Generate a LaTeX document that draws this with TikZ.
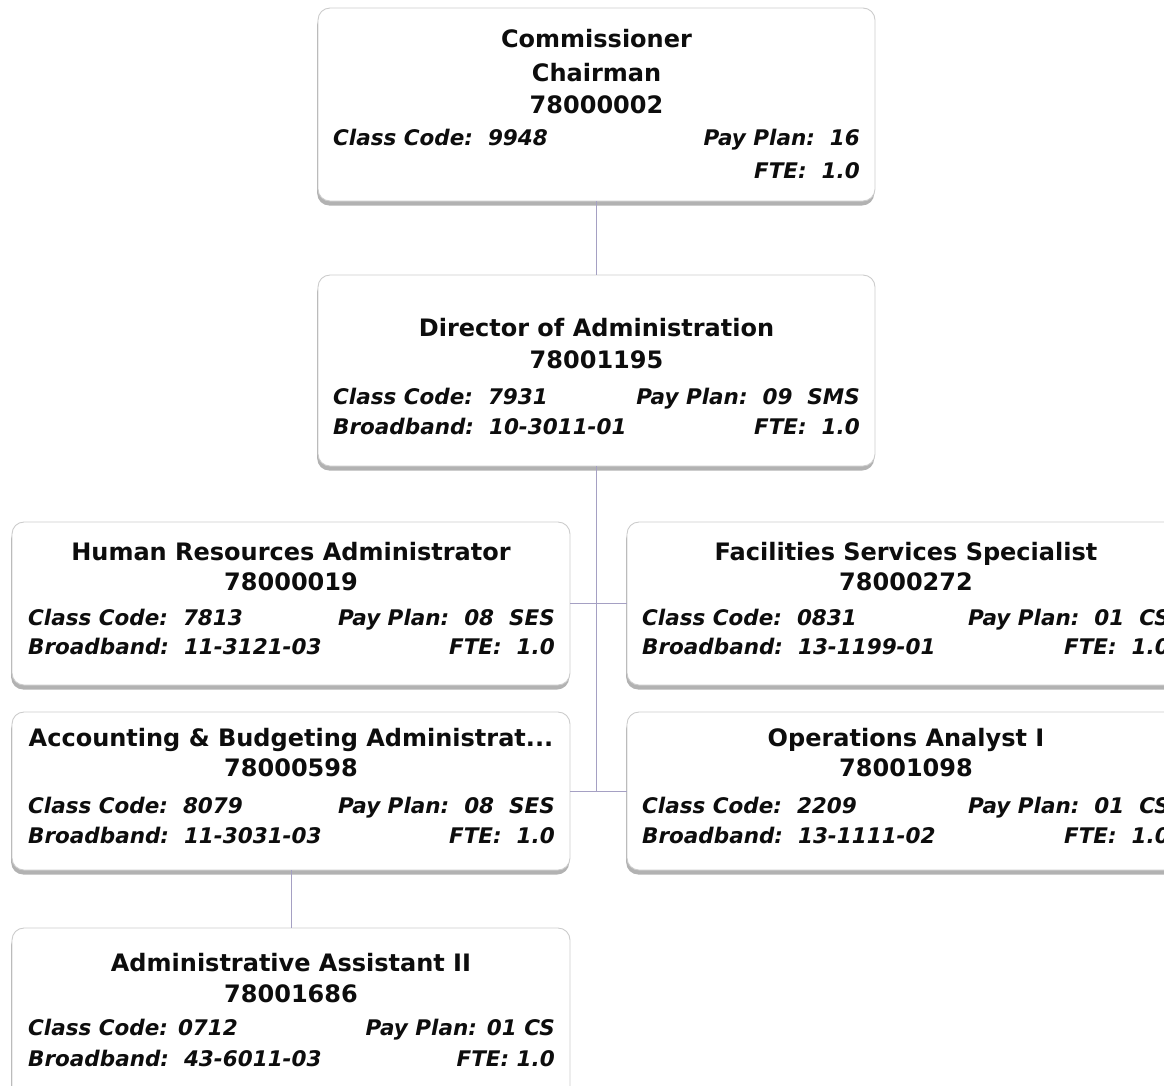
\documentclass[tikz,border=0pt]{standalone}
\usepackage{fontspec}
\setmainfont{DejaVu Sans}
\usetikzlibrary{shadows}
\begin{document}
\begin{tikzpicture}[x=1pt,y=-1pt,
  orgbox/.style={draw=gray!40, line width=0.9pt, fill=white, rounded corners=12pt,
    inner sep=0pt,
    general shadow={shadow xshift=-0.8pt, shadow yshift=-4.5pt, fill=gray!60}},
  link/.style={draw={rgb,255:red,165;green,160;blue,195}, line width=0.8pt},
  ttl/.style={inner sep=0pt, anchor=base, font=\fontsize{24}{24}\selectfont\bfseries, text=black!95},
  infoL/.style={inner sep=0pt, anchor=base west, font=\fontsize{21.5}{21.5}\selectfont\bfseries\itshape, text=black!95},
  infoR/.style={inner sep=0pt, anchor=base east, font=\fontsize{21.5}{21.5}\selectfont\bfseries\itshape, text=black!95}]
\useasboundingbox (0,0) rectangle (1164,1085);
\clip (0,0) rectangle (1164,1085);

% boxes
\node[orgbox, minimum width=557pt, minimum height=193pt] (top)   at (596.5,104.5) {};
\node[orgbox, minimum width=557pt, minimum height=191pt] (dir)   at (596.5,370.5) {};
\node[orgbox, minimum width=558pt, minimum height=163pt] (hr)    at (291,603.5) {};
\node[orgbox, minimum width=558pt, minimum height=163pt] (fac)   at (906,603.5) {};
\node[orgbox, minimum width=558pt, minimum height=158pt] (acc)   at (291,791) {};
\node[orgbox, minimum width=558pt, minimum height=158pt] (ops)   at (906,791) {};
\node[orgbox, minimum width=558pt, minimum height=170pt] (admin) at (291,1013) {};

% connectors
\draw[link] (top.south) -- (dir.north);
\draw[link] (dir.south) -- (dir.south |- acc.east);
\draw[link] (hr.east) -- (fac.west);
\draw[link] (acc.east) -- (ops.west);
\draw[link] (acc.south) -- (admin.north);

% Commissioner
\node[ttl] (topA) at (596.5,47) {Commissioner};
\node[ttl] (topB) at (596.5,81) {Chairman};
\node[ttl] (topC) at (596.5,113) {78000002};
\node[infoL] (topD) at (333,145) {Class Code:~~9948};
\node[infoR] (topE) at (860,145) {Pay Plan:~~16};
\node[infoR] (topF) at (860,178) {FTE:~~1.0};

% Director of Administration
\node[ttl] (dirA) at (596.5,336) {Director of Administration};
\node[ttl] (dirB) at (596.5,368) {78001195};
\node[infoL] (dirC) at (333,404) {Class Code:~~7931};
\node[infoR] (dirD) at (860,404) {Pay Plan:~~09~~SMS};
\node[infoL] (dirE) at (333,434) {Broadband:~~10-3011-01};
\node[infoR] (dirF) at (860,434) {FTE:~~1.0};

% Human Resources Administrator
\node[ttl] (hrA) at (291,560) {Human Resources Administrator};
\node[ttl] (hrB) at (291,590) {78000019};
\node[infoL] (hrC) at (28,625) {Class Code:~~7813};
\node[infoR] (hrD) at (555,625) {Pay Plan:~~08~~SES};
\node[infoL] (hrE) at (28,654) {Broadband:~~11-3121-03};
\node[infoR] (hrF) at (555,654) {FTE:~~1.0};

% Facilities Services Specialist
\node[ttl] (facA) at (906,560) {Facilities Services Specialist};
\node[ttl] (facB) at (906,590) {78000272};
\node[infoL] (facC) at (642,625) {Class Code:~~0831};
\node[infoR] (facD) at (1170,625) {Pay Plan:~~01~~CS};
\node[infoL] (facE) at (642,654) {Broadband:~~13-1199-01};
\node[infoR] (facF) at (1170,654) {FTE:~~1.0};

% Accounting & Budgeting Administrator
\node[ttl] (accA) at (291,746) {Accounting \& Budgeting Administrat...};
\node[ttl] (accB) at (291,776) {78000598};
\node[infoL] (accC) at (28,813) {Class Code:~~8079};
\node[infoR] (accD) at (555,813) {Pay Plan:~~08~~SES};
\node[infoL] (accE) at (28,843) {Broadband:~~11-3031-03};
\node[infoR] (accF) at (555,843) {FTE:~~1.0};

% Operations Analyst I
\node[ttl] (opsA) at (906,746) {Operations Analyst I};
\node[ttl] (opsB) at (906,776) {78001098};
\node[infoL] (opsC) at (642,813) {Class Code:~~2209};
\node[infoR] (opsD) at (1170,813) {Pay Plan:~~01~~CS};
\node[infoL] (opsE) at (642,843) {Broadband:~~13-1111-02};
\node[infoR] (opsF) at (1170,843) {FTE:~~1.0};

% Administrative Assistant II
\node[ttl] (admA) at (291,971) {Administrative Assistant II};
\node[ttl] (admB) at (291,1002) {78001686};
\node[infoL] (admC) at (28,1035) {Class Code: 0712};
\node[infoR] (admD) at (555,1035) {Pay Plan: 01 CS};
\node[infoL] (admE) at (28,1066) {Broadband:~~43-6011-03};
\node[infoR] (admF) at (555,1066) {FTE: 1.0};
\end{tikzpicture}
\end{document}
